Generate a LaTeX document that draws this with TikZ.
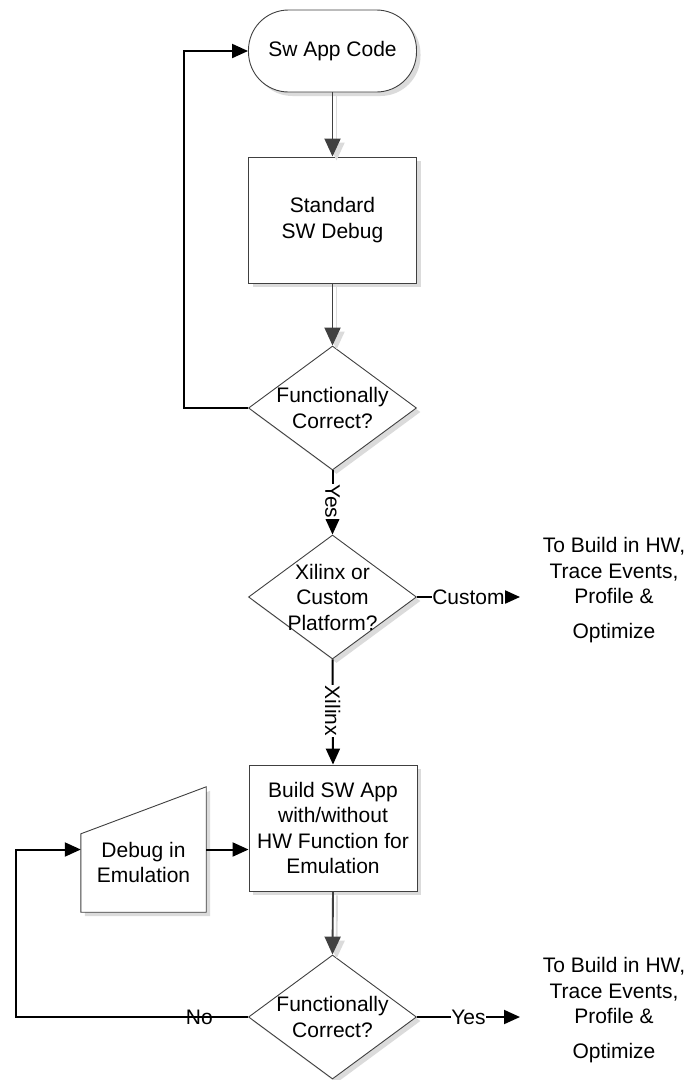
\documentclass[tikz,border=0pt]{standalone}
\usepackage{fontspec}
\setmainfont{Liberation Sans}
\usetikzlibrary{shapes.geometric,arrows.meta,shadows,calc}
\pgfdeclarelayer{bg}
\pgfsetlayers{bg,main}

\begin{document}
\begin{tikzpicture}[x=1pt,y=-1pt,
  font=\fontsize{21}{25.5}\selectfont,
  shape line/.style={draw=black!75, line width=0.9pt},
  shade/.style={drop shadow={shadow xshift=4pt,shadow yshift=-4pt,fill=black!14,opacity=1}},
  terminal/.style={shape line, fill=white, shade, rounded corners=40pt,
    minimum width=168pt, minimum height=82pt},
  process/.style={shape line, fill=white, shade, minimum width=168pt,
    minimum height=126pt, align=center},
  decision/.style={diamond, shape line, fill=white, shade,
    minimum width=168pt, minimum height=124pt, inner sep=0pt},
  flow/.style={draw=black!75, line width=1.9pt, -{Triangle[length=18pt,width=16pt]},
    preaction={draw=black!14, line width=1.9pt, transform canvas={shift={(4pt,-4pt)}}}},
  loop/.style={draw=black, line width=2pt, -{Triangle[length=16pt,width=14pt]}},
  tag/.style={fill=white, inner sep=0.5pt}]

\useasboundingbox (0,0) rectangle (688,1080);

% main column
\node[terminal] (start) at (332.5,51) {Sw App Code};
\node[process] (std) at (332.5,220) {Standard\\SW Debug};
\node[decision, label={[align=center]center:Functionally\\Correct?}] (chk1) at (332.5,408) {};
\node[decision, label={[align=center]center:Xilinx or\\Custom\\Platform?}] (plat) at (332.5,597) {};
\node[process] (build) at (333,828) {Build SW App\\with/without\\HW Function for\\Emulation};
\node[decision, label={[align=center]center:Functionally\\Correct?}] (chk2) at (332.5,1017) {};

% manual-input step on the left
\node[minimum width=125pt, minimum height=125pt,
  label={[align=center,yshift=-13pt]center:Debug in\\Emulation}] (dbg) at (143.5,849.5) {};
\begin{pgfonlayer}{bg}
  \fill[black!14, transform canvas={shift={(4pt,-4pt)}}]
    (dbg.south west) -- ($(dbg.north west)+(0,47)$) -- (dbg.north east) -- (dbg.south east) -- cycle;
  \draw[shape line, fill=white]
    (dbg.south west) -- ($(dbg.north west)+(0,47)$) -- (dbg.north east) -- (dbg.south east) -- cycle;
\end{pgfonlayer}

% exits to the hardware flow
\node[align=center] (hw1) at (614,590) {To Build in HW,\\Trace Events,\\Profile \&\\[9pt]Optimize};
\node[align=center] (hw2) at (614,1010) {To Build in HW,\\Trace Events,\\Profile \&\\[9pt]Optimize};
\coordinate (c1) at (520,597);
\coordinate (c2) at (520,1017);

% connectors
\draw[flow] (start.south) -- (std.north);
\draw[flow] (std.south) -- (chk1.north);
\draw[loop] (chk1.west) -- ++(-64,0) |- (start.west);
\draw[loop] (chk1.south) -- node[tag, rotate=-90, pos=0.48] {Yes} (plat.north);
\draw[loop] (plat.east) -- node[tag, pos=0.5] {Custom} (c1);
\draw[loop] (plat.south) -- node[tag, rotate=-90, pos=0.49] {Xilinx} (build.north);
\draw[loop] (dbg.east) -- (dbg.east -| build.west);
\draw[flow] (build.south) -- (chk2.north);
\draw[loop] (chk2.west) -- node[pos=0.21, inner sep=0pt] {No} ++(-232,0) |- (dbg.west);
\draw[loop] (chk2.east) -- node[tag, pos=0.5] {Yes} (c2);

\end{tikzpicture}
\end{document}
